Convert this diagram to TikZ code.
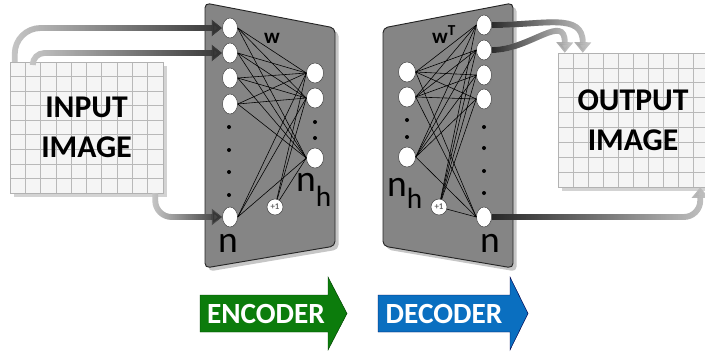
\documentclass[tikz,border=0pt]{standalone}
\usepackage{fontspec}
\setmainfont{Carlito}
\usepackage{tikz}
\usetikzlibrary{arrows.meta,shapes.geometric,shadows,fadings}

\definecolor{panelgray}{HTML}{858585}
\definecolor{encgreen}{HTML}{0C7C0C}
\definecolor{decblue}{HTML}{0A6FC0}

% dark end of the thick flow arrows
\tikzfading[name=darkeast, left color=transparent!100, right color=transparent!0]
\tikzfading[name=darkwest, left color=transparent!0, right color=transparent!100]

\tikzstyle{unit} = [ellipse, draw=black!75, fill=white, inner sep=0pt, minimum width=0.45cm, minimum height=0.6cm, drop shadow={opacity=0.35, shadow xshift=0.8pt, shadow yshift=-0.8pt}]
\tikzstyle{hunit} = [unit, minimum width=0.51cm]
\tikzstyle{bias} = [circle, draw=black!80, fill=white, inner sep=0pt, minimum size=0.48cm, font=\fontsize{7.5}{7.5}\selectfont\bfseries, text=black!60]
\tikzstyle{dot} = [circle, fill=black, inner sep=0pt, minimum size=0.12cm]
\tikzstyle{lbl} = [inner sep=0pt, font=\fontsize{32}{32}\selectfont]
\tikzstyle{wlbl} = [inner sep=0pt, font=\fontsize{18}{18}\selectfont\bfseries]
\tikzstyle{conn} = [draw=black, line width=0.5pt]
\tikzstyle{panel} = [draw=black!85, line width=0.8pt, fill=panelgray, rounded corners=4pt, drop shadow={opacity=0.45, shadow xshift=3pt, shadow yshift=-3pt}]
\tikzstyle{gridline} = [draw=gray!55, line width=0.6pt]
\tikzstyle{imgbox} = [rectangle, draw=gray!60, fill=gray!8, inner sep=0pt, align=center, font=\fontsize{27}{34}\selectfont\bfseries,
  drop shadow={opacity=0.35, shadow xshift=3pt, shadow yshift=-3pt},
  path picture={
    \foreach \k in {1,...,9}
      \draw[gridline] ($(path picture bounding box.south west)!\k/10!(path picture bounding box.south east)$) -- ($(path picture bounding box.north west)!\k/10!(path picture bounding box.north east)$);
    \foreach \k in {1,...,8}
      \draw[gridline] ($(path picture bounding box.south west)!\k/9!(path picture bounding box.north west)$) -- ($(path picture bounding box.south east)!\k/9!(path picture bounding box.north east)$);
  }]
\tikzstyle{flow} = [line width=5pt, -{Triangle[length=9pt,width=14pt]}]
\tikzstyle{blocklbl} = [inner sep=0pt, text=white, font=\fontsize{25}{25}\selectfont\bfseries]

\usetikzlibrary{calc}

\begin{document}
\begin{tikzpicture}[x=0.03cm,y=-0.03cm]
  \useasboundingbox (0,0) rectangle (705,356);

  % the two network panels
  \draw[panel] (205,3) -- (335,28) -- (335,246) -- (205,268) -- cycle;
  \draw[panel] (383,28) -- (513,3) -- (513,268) -- (383,246) -- cycle;

  % encoder: input layer
  \node[unit] (X_1) at (230,28) {};
  \node[unit] (X_2) at (230,53) {};
  \node[unit] (X_3) at (230,78) {};
  \node[unit] (X_4) at (230,104) {};
  \node[dot] (X_d1) at (229,127) {};
  \node[dot] (X_d2) at (229,150) {};
  \node[dot] (X_d3) at (229,172) {};
  \node[dot] (X_d4) at (229,195) {};
  \node[unit] (X_n) at (230,217) {};
  % encoder: hidden layer
  \node[hunit] (H_1) at (315,73) {};
  \node[hunit] (H_2) at (315,98) {};
  \node[dot] (H_d1) at (315,122) {};
  \node[dot] (H_d2) at (315,138) {};
  \node[hunit] (H_n) at (315,158) {};
  \node[bias] (B_enc) at (275,207) {+1};

  % decoder: hidden layer
  \node[hunit] (G_1) at (407,72) {};
  \node[hunit] (G_2) at (407,97) {};
  \node[dot] (G_d1) at (407,120) {};
  \node[dot] (G_d2) at (407,137) {};
  \node[hunit] (G_n) at (407,157) {};
  \node[bias] (B_dec) at (439,207) {+1};
  % decoder: output layer
  \node[unit] (Y_1) at (484,25) {};
  \node[unit] (Y_2) at (484,50) {};
  \node[unit] (Y_3) at (484,75) {};
  \node[unit] (Y_4) at (484,99) {};
  \node[dot] (Y_d1) at (484,127) {};
  \node[dot] (Y_d2) at (484,148) {};
  \node[dot] (Y_d3) at (484,171) {};
  \node[dot] (Y_d4) at (484,193) {};
  \node[unit] (Y_n) at (484,217) {};

  % weights w
  \path[conn] (X_1.east) edge (H_1.west) edge (H_2.west) edge (H_n.west);
  \path[conn] (X_2.east) edge (H_1.west) edge (H_2.west) edge (H_n.west);
  \path[conn] (X_3.east) edge (H_1.west) edge (H_2.west) edge (H_n.west);
  \path[conn] (X_4.east) edge (H_1.west) edge (H_2.west) edge (H_n.west);
  \path[conn] (X_n.east) edge (H_1.west) edge (H_2.west) edge (H_n.west);
  \path[conn] (B_enc) edge (H_1.west) edge (H_2.west) edge (H_n.west);

  % weights w^T
  \path[conn] (G_1.east) edge (Y_1.west) edge (Y_2.west) edge (Y_3.west) edge (Y_4.west) edge (Y_n.west);
  \path[conn] (G_2.east) edge (Y_1.west) edge (Y_2.west) edge (Y_3.west) edge (Y_4.west) edge (Y_n.west);
  \path[conn] (G_n.east) edge (Y_1.west) edge (Y_2.west) edge (Y_3.west) edge (Y_4.west) edge (Y_n.west);
  \path[conn] (B_dec) edge (Y_1.west) edge (Y_2.west) edge (Y_3.west) edge (Y_4.west) edge (Y_n.west);

  % layer labels
  \node[wlbl] (W_enc) at (272,38) {w};
  \node[wlbl, anchor=base west] (W_dec) at (432,43) {w\raisebox{6pt}{\fontsize{13}{13}\selectfont T}};
  \node[lbl] (N_enc) at (228,243) {n};
  \node[lbl] (N_dec) at (490,243) {n};
  \node[lbl, anchor=base west] (NH_enc) at (296,191) {n\raisebox{-13pt}{\fontsize{25}{25}\selectfont h}};
  \node[lbl, anchor=base west] (NH_dec) at (387,196) {n\raisebox{-11pt}{\fontsize{25}{25}\selectfont h}};

  % input and output images
  \node[imgbox, minimum width=4.59cm, minimum height=3.93cm] (IN) at (86.5,127.5) {INPUT\\IMAGE};
  \node[imgbox, minimum width=4.5cm, minimum height=4.02cm] (OUT) at (633,120) {OUTPUT\\IMAGE};

  % pixels into the encoder
  \draw[flow, rounded corners=22pt, draw=gray!45, postaction={draw=black!80, path fading=darkeast}]
    ([xshift=0.15cm]IN.north west) |- (X_1.west);
  \draw[flow, rounded corners=10pt, draw=gray!45, postaction={draw=black!80, path fading=darkeast}]
    ([xshift=0.69cm]IN.north west) |- (X_2.west);
  \draw[flow, rounded corners=14pt, draw=gray!45, postaction={draw=black!80, path fading=darkeast}]
    ([xshift=-0.24cm]IN.south east) |- (X_n.west);

  % reconstruction out of the decoder
  \draw[flow, draw=gray!50, postaction={draw=black!85, path fading=darkwest}]
    (Y_1.east) .. controls (545,25) and (583,12) .. ([xshift=0.75cm]OUT.north west);
  \draw[flow, draw=gray!50, postaction={draw=black!85, path fading=darkwest}]
    (Y_2.east) .. controls (530,50) and (565,12) .. ([xshift=0.21cm]OUT.north west);
  \draw[flow, rounded corners=14pt, draw=gray!50, postaction={draw=black!85, path fading=darkwest}]
    (Y_n.east) -| ([xshift=-0.24cm]OUT.south east);

  % encoder / decoder block arrows
  \draw[fill=encgreen, draw=green!25!black] (200,295) -- (328,295) -- (328,277) -- (347,313.5) -- (328,350) -- (328,332) -- (200,332) -- cycle;
  \node[blocklbl] (ENC) at (266,313.5) {ENCODER};
  \draw[fill=decblue, draw=blue!30!black] (378,295) -- (510,295) -- (510,277) -- (528,313.5) -- (510,350) -- (510,332) -- (378,332) -- cycle;
  \node[blocklbl] (DEC) at (444,313.5) {DECODER};
\end{tikzpicture}
\end{document}
